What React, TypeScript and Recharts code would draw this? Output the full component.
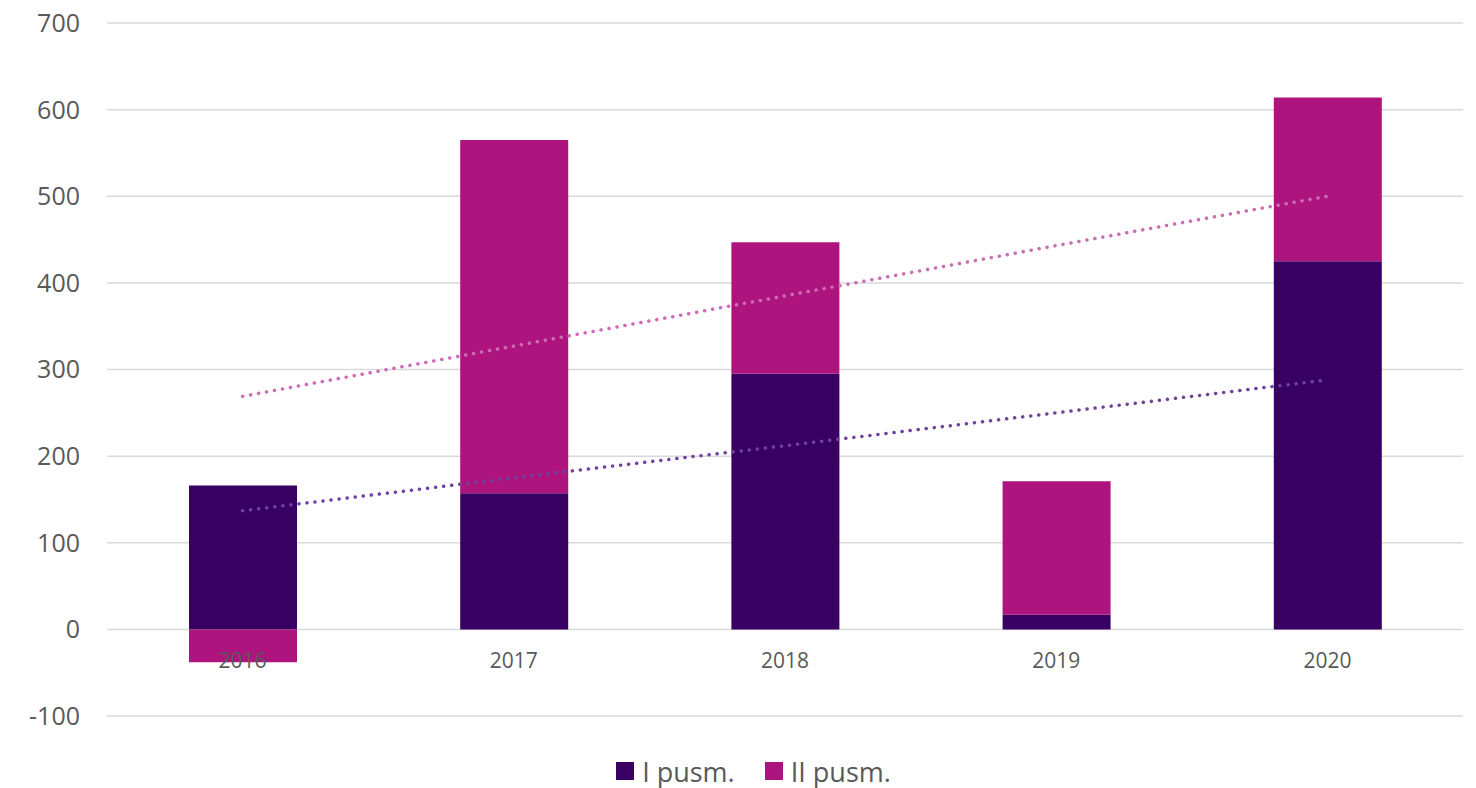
import { ComposedChart, Bar, Line, XAxis, YAxis, CartesianGrid, Legend } from 'recharts';

const years = ['2016', '2017', '2018', '2019', '2020'];
const firstHalf = [166, 157, 295, 17, 425];
const secondHalf = [-38, 408, 152, 154, 189];
// dotted trend lines, read where they cross each year
const trendFirst = [137, 175, 212, 250, 288];
const trendSecond = [269, 327, 385, 443, 500];
const yTicks = [-100, 0, 100, 200, 300, 400, 500, 600, 700];

const data = years.map((year, i) => ({
  year,
  first: firstHalf[i],
  second: secondHalf[i],
  trendFirst: trendFirst[i],
  trendSecond: trendSecond[i],
}));

const WIDTH = 1476;
const HEIGHT = 788;
const PLOT_TOP = 23;
const PLOT_BOTTOM = 716;
const LEGEND_H = 40;
const XAXIS_H = 30;
const MARGIN = { top: PLOT_TOP, right: 13, bottom: HEIGHT - PLOT_BOTTOM - LEGEND_H - XAXIS_H, left: 0 };
const Y_MIN = -100;
const Y_MAX = 700;
const FONT = '"Open Sans", sans-serif';
const TEXT = '#595959';
const PURPLE = '#380062';
const MAGENTA = '#AE147E';

const plotHeight = PLOT_BOTTOM - PLOT_TOP;
// Excel puts the category labels under the zero line, not the plot bottom
const zeroShift = (plotHeight * (0 - Y_MIN)) / (Y_MAX - Y_MIN);

const YearTick = ({ x, payload }: any) => (
  <text x={x} y={PLOT_BOTTOM - zeroShift + 39} textAnchor="middle" fill={TEXT} fontSize={21} fontFamily={FONT}>
    {payload.value}
  </text>
);

const legendItems = [
  { label: 'I pusm.', color: PURPLE },
  { label: 'II pusm.', color: MAGENTA },
];

const LegendBox = () => (
  <div
    style={{
      display: 'flex',
      justifyContent: 'center',
      alignItems: 'center',
      gap: 30,
      height: LEGEND_H,
      fontFamily: FONT,
      fontSize: 27,
      color: TEXT,
      paddingLeft: 44,
      paddingTop: 6,
      boxSizing: 'border-box',
    }}
  >
    {legendItems.map((item) => (
      <div key={item.label} style={{ display: 'flex', alignItems: 'center', gap: 8 }}>
        <span style={{ width: 18, height: 18, background: item.color, display: 'inline-block' }} />
        <span>{item.label}</span>
      </div>
    ))}
  </div>
);

export default function App() {
  return (
    <div style={{ position: 'absolute', left: 0, top: 0, background: '#fff' }}>
      <ComposedChart width={WIDTH} height={HEIGHT} data={data} margin={MARGIN} stackOffset="sign">
        <CartesianGrid vertical={false} stroke="#D9D9D9" strokeWidth={1.5} />
        <XAxis
          dataKey="year"
          axisLine={false}
          tickLine={false}
          tickSize={0}
          tick={<YearTick />}
          height={XAXIS_H}
        />
        <YAxis
          domain={[Y_MIN, Y_MAX]}
          ticks={yTicks}
          axisLine={false}
          tickLine={false}
          tickSize={0}
          tickMargin={27}
          width={107}
          tick={{ fill: TEXT, fontSize: 25, fontFamily: FONT }}
        />
        <Legend verticalAlign="bottom" content={<LegendBox />} height={LEGEND_H} wrapperStyle={{ bottom: 0 }} />
        <Bar dataKey="first" stackId="s" fill={PURPLE} barSize={108} isAnimationActive={false} />
        <Bar dataKey="second" stackId="s" fill={MAGENTA} barSize={108} isAnimationActive={false} />
        <Line
          dataKey="trendSecond"
          stroke="#CF6BB5"
          strokeWidth={3.5}
          strokeDasharray="0.1 8"
          strokeLinecap="round"
          dot={false}
          activeDot={false}
          isAnimationActive={false}
        />
        <Line
          dataKey="trendFirst"
          stroke="#7041A0"
          strokeWidth={3.5}
          strokeDasharray="0.1 8"
          strokeLinecap="round"
          dot={false}
          activeDot={false}
          isAnimationActive={false}
        />
      </ComposedChart>
    </div>
  );
}
